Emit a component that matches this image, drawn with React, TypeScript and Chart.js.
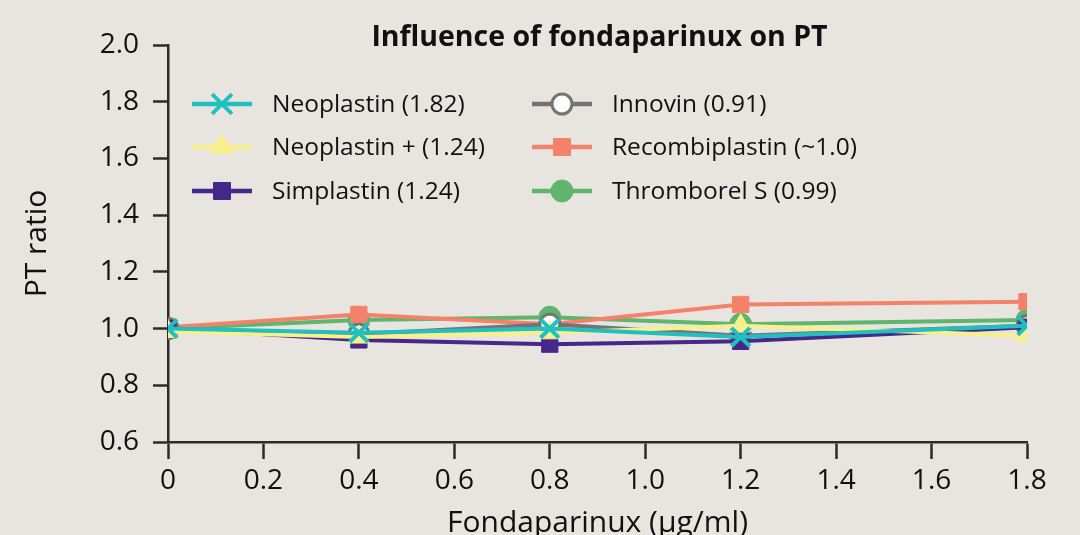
import React, { useEffect, useRef } from 'react';
import { Chart, registerables } from 'chart.js';
import { drawPoint } from 'chart.js/helpers';

Chart.register(...registerables);

// ---- data ----
const doses = [0, 0.4, 0.8, 1.2, 1.8];
const seriesNames = [
  'Neoplastin (1.82)',
  'Neoplastin + (1.24)',
  'Simplastin (1.24)',
  'Innovin (0.91)',
  'Recombiplastin (~1.0)',
  'Thromborel S (0.99)',
];
const neoplastin = [1.0, 0.985, 1.0, 0.97, 1.01];
const neoplastinPlus = [0.99, 0.97, 0.985, 1.01, 0.975];
const simplastin = [1.0, 0.96, 0.945, 0.955, 1.005];
const innovin = [1.0, 0.98, 1.015, 0.975, 1.01];
const recombiplastin = [1.005, 1.05, 1.015, 1.085, 1.095];
const thromborel = [1.0, 1.03, 1.04, 1.015, 1.03];
const xTickLabels = ['0', '0.2', '0.4', '0.6', '0.8', '1.0', '1.2', '1.4', '1.6', '1.8'];
const yTickLabels = ['0.6', '0.8', '1.0', '1.2', '1.4', '1.6', '1.8', '2.0'];
const chartTitle = 'Influence of fondaparinux on PT';
const xTitle = 'Fondaparinux (µg/ml)';
const yTitle = 'PT ratio';

// ---- styles ----
const BG = '#e8e4df';
const AXIS = '#2f2b2b';
const FONT = "'Open Sans', 'Noto Sans', sans-serif";
const styles = [
  { color: '#22bfbf', fill: '#22bfbf', shape: 'crossRot', radius: 13, legendRadius: 14, borderWidth: 4 },
  { color: '#f7f08c', fill: '#f7f08c', shape: 'triangle', radius: 12, legendRadius: 13, borderWidth: 1 },
  { color: '#46288a', fill: '#46288a', shape: 'rect', radius: 11.5, legendRadius: 12, borderWidth: 1 },
  { color: '#747474', fill: '#ffffff', shape: 'circle', radius: 10, legendRadius: 10, borderWidth: 3 },
  { color: '#f4826a', fill: '#f4826a', shape: 'rect', radius: 11.5, legendRadius: 12, borderWidth: 1 },
  { color: '#5fb46e', fill: '#5fb46e', shape: 'circle', radius: 11, legendRadius: 11, borderWidth: 1 },
];
const allSeries = [neoplastin, neoplastinPlus, simplastin, innovin, recombiplastin, thromborel];

const decorPlugin = {
  id: 'decor',
  beforeDraw(chart: any) {
    const { ctx, width, height } = chart;
    ctx.save();
    ctx.fillStyle = BG;
    ctx.fillRect(0, 0, width, height);
    ctx.restore();
  },
  afterDraw(chart: any) {
    const { ctx, chartArea } = chart;
    ctx.save();
    // title
    ctx.fillStyle = '#111';
    ctx.font = `bold 28.5px ${FONT}`;
    ctx.textAlign = 'center';
    ctx.textBaseline = 'middle';
    ctx.fillText(chartTitle, (chartArea.left + chartArea.right) / 2 + 2, 38);
    // legend
    const colX = [192, 532];
    const rowY = [104, 147, 191];
    ctx.font = `24.5px ${FONT}`;
    ctx.textAlign = 'left';
    seriesNames.forEach((name, i) => {
      const col = i < 3 ? 0 : 1;
      const row = i % 3;
      const x0 = colX[col];
      const y = rowY[row];
      const st = styles[i];
      ctx.strokeStyle = st.color;
      ctx.lineWidth = 4.5;
      ctx.beginPath();
      ctx.moveTo(x0, y);
      ctx.lineTo(x0 + 60, y);
      ctx.stroke();
      ctx.fillStyle = st.fill;
      ctx.strokeStyle = st.color;
      ctx.lineWidth = st.borderWidth;
      drawPoint(ctx, { pointStyle: st.shape, radius: st.legendRadius, borderWidth: st.borderWidth, rotation: 0 } as any, x0 + 30, y);
      ctx.fillStyle = '#111';
      ctx.fillText(name, x0 + 80, y + 1);
    });
    ctx.restore();
  },
};

export default function App() {
  const ref = useRef<HTMLCanvasElement | null>(null);
  useEffect(() => {
    if (!ref.current) return;
    const datasets = allSeries.map((vals, i) => ({
      label: seriesNames[i],
      data: vals.map((v, j) => ({ x: doses[j], y: v })),
      borderColor: styles[i].color,
      backgroundColor: styles[i].fill,
      pointBackgroundColor: styles[i].fill,
      pointBorderColor: styles[i].color,
      pointBorderWidth: styles[i].borderWidth,
      pointStyle: styles[i].shape,
      pointRadius: styles[i].radius,
      borderWidth: 4,
      tension: 0,
      fill: false,
    }));
    const chart = new Chart(ref.current, {
      type: 'line',
      data: { datasets },
      plugins: [decorPlugin],
      options: {
        animation: false,
        responsive: false,
        layout: { padding: { top: 45, right: 53, left: 0, bottom: 0 } },
        plugins: { legend: { display: false }, title: { display: false }, tooltip: { enabled: false } },
        scales: {
          x: {
            type: 'linear',
            min: 0,
            max: 1.8,
            afterFit: (s: any) => { s.height = 93; },
            afterBuildTicks: (s: any) => { s.ticks = xTickLabels.map((t) => ({ value: parseFloat(t) })); },
            ticks: {
              color: '#111',
              font: { family: FONT, size: 28 },
              padding: 5,
              autoSkip: false,
              maxRotation: 0,
              callback: (_v: any, i: number) => xTickLabels[i],
            },
            grid: { drawOnChartArea: false, drawTicks: true, tickLength: 17, tickColor: AXIS, tickWidth: 2.5 },
            border: { display: true, color: AXIS, width: 2.5 },
            title: { display: true, text: xTitle, color: '#111', font: { family: FONT, size: 30, lineHeight: 1 }, padding: { top: 0, bottom: -3 } },
          },
          y: {
            type: 'linear',
            min: 0.6,
            max: 2.0,
            afterFit: (s: any) => { s.width = 168; },
            afterBuildTicks: (s: any) => { s.ticks = yTickLabels.map((t) => ({ value: parseFloat(t) })); },
            ticks: {
              color: '#111',
              font: { family: FONT, size: 28 },
              padding: 14,
              autoSkip: false,
              callback: (_v: any, i: number) => yTickLabels[i],
            },
            grid: { drawOnChartArea: false, drawTicks: true, tickLength: 15, tickColor: AXIS, tickWidth: 2.5 },
            border: { display: true, color: AXIS, width: 2.5 },
            title: { display: true, text: yTitle, color: '#111', font: { family: FONT, size: 30, lineHeight: 1 }, padding: { top: 22, bottom: 0 } },
          },
        },
      },
    } as any);
    return () => chart.destroy();
  }, []);
  return (
    <div style={{ position: 'absolute', left: 0, top: 0, width: 1080, height: 535, background: BG }}>
      <canvas ref={ref} width={1080} height={535} style={{ display: 'block' }} />
    </div>
  );
}
